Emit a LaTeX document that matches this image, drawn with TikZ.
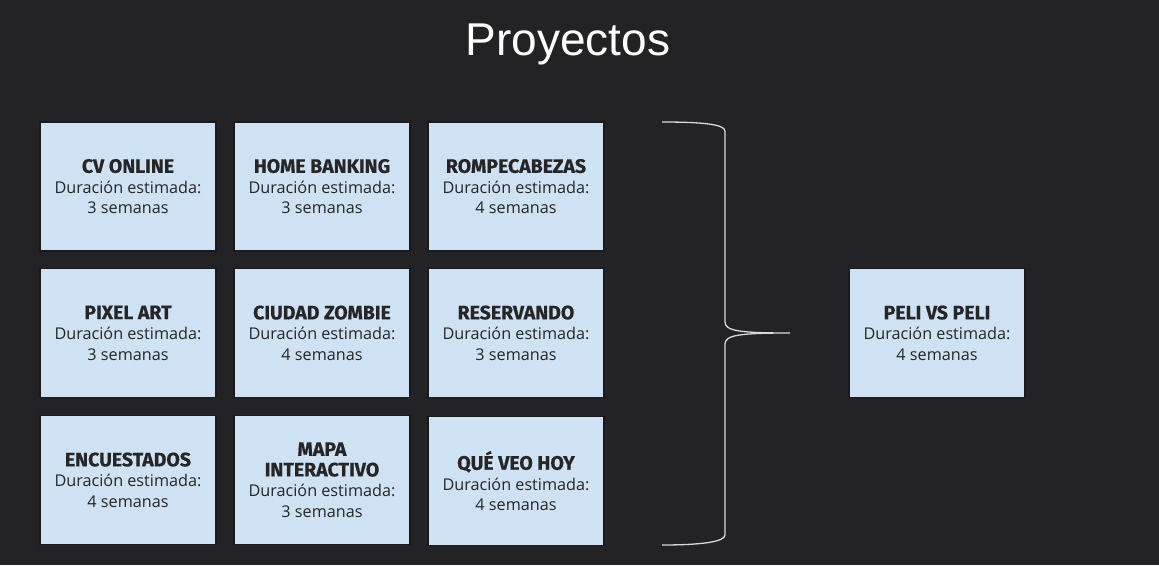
\documentclass[tikz,border=0pt]{standalone}
\usepackage{fontspec}
\setmainfont{Open Sans}
\newfontfamily\titlefont{Liberation Sans}
\newfontfamily\boldfont[BoldFeatures={FakeBold=0.6}]{Fira Sans}
\definecolor{bg}{HTML}{232325}
\definecolor{boxfill}{HTML}{CFE2F3}
\definecolor{boxline}{HTML}{1A1A1A}
\tikzset{
  proj/.style={draw=boxline, line width=1.2pt, fill=boxfill, minimum width=176pt, minimum height=129pt, inner sep=0pt, align=center, font=\fontsize{16.2}{20.5}\selectfont, text=black!85},
}
\newcommand{\ptitle}[1]{{\boldfont\bfseries\fontsize{19.5}{20.5}\selectfont #1}}
\begin{document}
\begin{tikzpicture}[x=1pt,y=-1pt]
\fill[bg] (0,0) rectangle (1159,565);
\useasboundingbox (0,0) rectangle (1159,565);
\node[text=white, font=\titlefont\fontsize{46}{50}\selectfont] (title) at (568,44) {Proyectos};
\node[proj] (cv) at (128,186.5) {\ptitle{CV ONLINE}\\Duración estimada:\\3 semanas};
\node[proj] (hb) at (322,186.5) {\ptitle{HOME BANKING}\\Duración estimada:\\3 semanas};
\node[proj] (rc) at (516,186.5) {\ptitle{ROMPECABEZAS}\\Duración estimada:\\4 semanas};
\node[proj] (pa) at (128,333) {\ptitle{PIXEL ART}\\Duración estimada:\\3 semanas};
\node[proj] (cz) at (322,333) {\ptitle{CIUDAD ZOMBIE}\\Duración estimada:\\4 semanas};
\node[proj] (rs) at (516,333) {\ptitle{RESERVANDO}\\Duración estimada:\\3 semanas};
\node[proj] (en) at (128,480) {\ptitle{ENCUESTADOS}\\Duración estimada:\\4 semanas};
\node[proj] (mi) at (322,480) {\ptitle{MAPA}\\\ptitle{INTERACTIVO}\\Duración estimada:\\3 semanas};
\node[proj] (qv) at (516,481) {\ptitle{QUÉ VEO HOY}\\Duración estimada:\\4 semanas};
\node[proj] (pv) at (937,333) {\ptitle{PELI VS PELI}\\Duración estimada:\\4 semanas};
\coordinate (btop) at (662,122);
\coordinate (bbot) at (662,545);
\coordinate (btip) at (790,333);
\draw[white!85!black, line width=1.3pt]
  (btop) .. controls (700,122) and (725,124) .. (725,131)
  -- (725,322) .. controls (725,331) and (740,333) .. (btip)
  .. controls (740,333) and (725,335) .. (725,344)
  -- (725,535) .. controls (725,542) and (700,545) .. (bbot);
\end{tikzpicture}
\end{document}
